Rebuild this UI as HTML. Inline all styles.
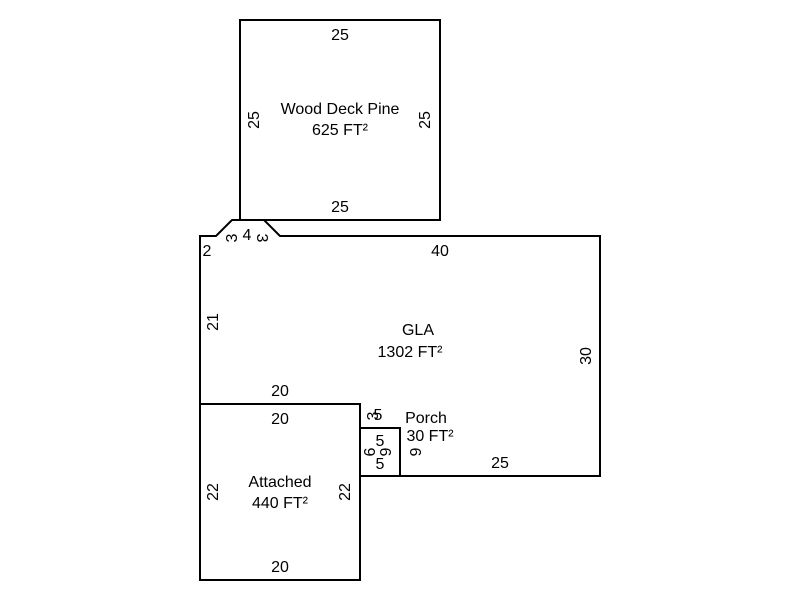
<!DOCTYPE html>
<html><head><meta charset="utf-8"><style>body{margin:0;background:#fff}</style></head><body>
<svg width="800" height="600" xmlns="http://www.w3.org/2000/svg" font-family="Liberation Sans, Arial, sans-serif" font-size="16" fill="#000">
<g fill="none" stroke="#000" stroke-width="2">
<rect x="240" y="20" width="200" height="200"/>
<path d="M200,404 L200,236 L216,236 L232,220 L264,220 L280,236 L600,236 L600,476 L360,476 L360,404 Z"/>
<rect x="200" y="404" width="160" height="176"/>
<rect x="360" y="428" width="40" height="48"/>
</g>
<g text-anchor="middle">
<text x="340" y="40">25</text>
<text x="340" y="212">25</text>
<text x="340" y="114">Wood Deck Pine</text>
<text x="340" y="135">625 FT²</text>
<text transform="translate(259,120) rotate(-90)">25</text>
<text transform="translate(430,120) rotate(-90)">25</text>
<text x="440" y="256">40</text>
<text x="207" y="256">2</text>
<text x="247" y="240">4</text>
<text transform="translate(237,238) rotate(-90)">3</text>
<text transform="translate(257,238) rotate(90)">3</text>
<text transform="translate(218,322) rotate(-90)">21</text>
<text transform="translate(591,356) rotate(-90)">30</text>
<text x="418" y="335">GLA</text>
<text x="410" y="357">1302 FT²</text>
<text x="280" y="396">20</text>
<text x="280" y="424">20</text>
<text x="280" y="487">Attached</text>
<text x="280" y="508">440 FT²</text>
<text x="280" y="572">20</text>
<text transform="translate(218,492) rotate(-90)">22</text>
<text transform="translate(350,492) rotate(-90)">22</text>
<text x="500" y="468">25</text>
<text x="426" y="423">Porch</text>
<text x="430" y="441">30 FT²</text>
<text x="378" y="420">5</text>
<text transform="translate(378,416) rotate(-90)">3</text>
<text x="380" y="446">5</text>
<text x="380" y="469">5</text>
<text transform="translate(375,452) rotate(-90)">6</text>
<text transform="translate(380,452) rotate(90)">6</text>
<text transform="translate(410,452) rotate(90)">6</text>
</g>
</svg>
</body></html>
